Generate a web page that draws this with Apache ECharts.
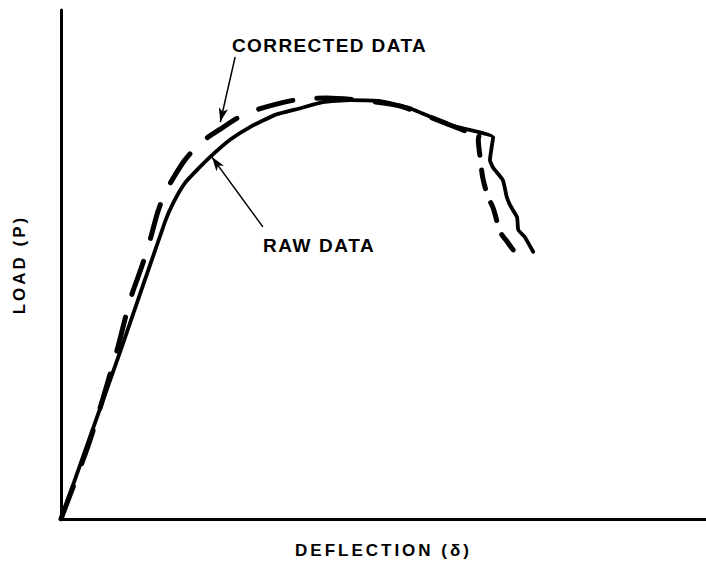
<!DOCTYPE html>
<html>
<head>
<meta charset="utf-8">
<script src="https://cdn.jsdelivr.net/npm/echarts@6/dist/echarts.min.js"></script>
<style>
  html, body { margin: 0; padding: 0; background: #fff; }
  #chart { width: 706px; height: 564px; }
</style>
</head>
<body>
<div id="chart"></div>
<script>
// Load–deflection curves, arbitrary units (0–100 on each axis)
const deflectionRaw = [0, 9.15, 16.1, 17.4, 19.2, 21.1, 23.1, 26.2, 29.3, 33.2, 37.1, 40.6, 44.8, 49.5, 54.1, 60.3, 67.0, 66.7, 66.5, 67.0, 68.5, 69.1, 69.6, 70.7, 70.9, 71.9, 73.2];
const loadRaw       = [0, 32.8, 58.3, 62.1, 66.0, 68.6, 71.1, 74.5, 77.0, 79.4, 80.7, 81.9, 82.3, 82.1, 80.7, 77.4, 75.0, 72.5, 70.5, 69.0, 66.6, 63.3, 61.7, 59.3, 56.8, 55.4, 52.5];

// Corrected curve up to the peak-load drop
const deflectionCorrected = [0, 4.5, 8.7, 10.7, 12.6, 13.8, 15.0, 16.1, 17.7, 19.2, 21.6, 24.7, 27.4, 30.4, 34.0, 37.1, 41.2, 45.9, 52.6, 60.3, 64.8];
const loadCorrected       = [0, 15.5, 33.2, 43.0, 49.9, 54.8, 60.3, 64.0, 67.6, 70.5, 73.9, 76.6, 78.8, 80.4, 81.7, 82.5, 82.7, 82.3, 81.1, 77.4, 75.2];
// Corrected curve after the drop
const deflectionCorrectedTail = [64.8, 64.7, 65.0, 65.4, 66.2, 67.0, 68.1, 69.1, 70.9];
const loadCorrectedTail       = [75.2, 74.5, 70.9, 67.0, 63.3, 61.1, 56.4, 54.6, 51.5];

// Leader arrows for the two callouts: [from, to] in data units
const correctedArrow = [[27.0, 90.8], [24.7, 78.0]];
const rawArrow       = [[31.3, 57.4], [23.4, 71.1]];

const axisTitles = { x: 'DEFLECTION (δ)', y: 'LOAD (P)' };
const calloutTexts = { corrected: 'CORRECTED DATA', raw: 'RAW DATA' };

const pairs = (xs, ys) => xs.map((x, i) => [x, ys[i]]);

const FONT = 'Liberation Sans, Arial, sans-serif';
const titleStyle = { fontFamily: FONT, fontWeight: 'bold', fontSize: 17, color: '#000' };

// Extra tracking per label (applied to the SVG text nodes)
const tracking = {};
tracking[axisTitles.x] = 3;
tracking[axisTitles.y] = 3;
tracking[calloutTexts.corrected] = 1.4;
tracking[calloutTexts.raw] = 1.6;

const arrowLine = (seg) => ({
  silent: true,
  symbol: ['none', 'arrow'],
  symbolSize: [7, 14],
  label: { show: false },
  lineStyle: { color: '#000', width: 1.5, type: 'solid' },
  emphasis: { disabled: true },
  data: [[{ coord: seg[0] }, { coord: seg[1] }]]
});

const dashedStyle = (pattern) => ({ color: '#000', width: 5, type: pattern, cap: 'round', join: 'round' });

const chart = echarts.init(document.getElementById('chart'), null, { renderer: 'svg' });

chart.setOption({
  animation: false,
  backgroundColor: '#fff',
  grid: { left: 61, right: 0, top: 10, bottom: 44.5 },
  xAxis: {
    type: 'value', min: 0, max: 100,
    axisLine: { show: true, onZero: false, lineStyle: { color: '#000', width: 3 } },
    axisTick: { show: false }, axisLabel: { show: false }, splitLine: { show: false },
    name: axisTitles.x, nameLocation: 'middle', nameGap: 23,
    nameTextStyle: titleStyle
  },
  yAxis: {
    type: 'value', min: 0, max: 100,
    axisLine: { show: true, onZero: false, lineStyle: { color: '#000', width: 3 } },
    axisTick: { show: false }, axisLabel: { show: false }, splitLine: { show: false },
    name: axisTitles.y, nameLocation: 'middle', nameGap: 33,
    nameTextStyle: titleStyle
  },
  graphic: [
    { type: 'text', left: 232, top: 36,
      style: { text: calloutTexts.corrected, fontFamily: FONT, fontWeight: 'bold', fontSize: 19, fill: '#000' } },
    { type: 'text', left: 263, top: 236,
      style: { text: calloutTexts.raw, fontFamily: FONT, fontWeight: 'bold', fontSize: 19, fill: '#000' } }
  ],
  series: [
    {
      name: 'Raw data', type: 'line', data: pairs(deflectionRaw, loadRaw),
      showSymbol: false, symbol: 'none', smooth: 0.15,
      lineStyle: { color: '#000', width: 3.8, cap: 'round', join: 'round' },
      emphasis: { disabled: true },
      markLine: arrowLine(rawArrow)
    },
    {
      name: 'Corrected data', type: 'line', data: pairs(deflectionCorrected, loadCorrected),
      showSymbol: false, symbol: 'none', smooth: 0.25,
      lineStyle: dashedStyle([35, 24]),
      emphasis: { disabled: true },
      markLine: arrowLine(correctedArrow)
    },
    {
      name: 'Corrected data (after drop)', type: 'line', data: pairs(deflectionCorrectedTail, loadCorrectedTail),
      showSymbol: false, symbol: 'none', smooth: 0.3,
      lineStyle: dashedStyle([19, 15]),
      emphasis: { disabled: true }
    }
  ]
});

function applyTracking() {
  chart.getDom().querySelectorAll('text').forEach(t => {
    const s = tracking[t.textContent];
    if (s != null) t.setAttribute('letter-spacing', s);
  });
}
applyTracking();
chart.on('finished', applyTracking);
</script>
</body>
</html>
